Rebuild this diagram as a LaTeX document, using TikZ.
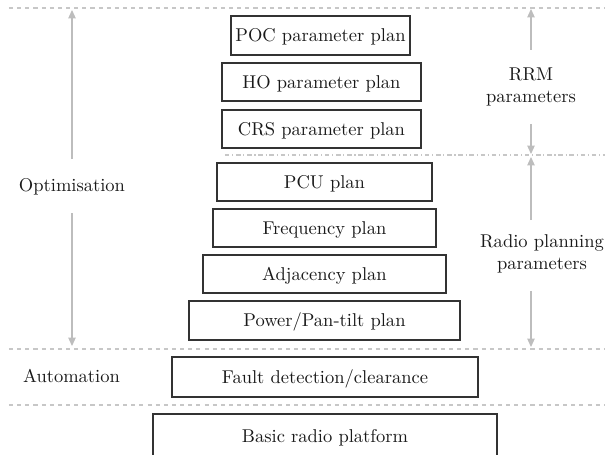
\documentclass[tikz,border=0pt]{standalone}
\usetikzlibrary{arrows.meta}
\begin{document}
\begin{tikzpicture}[x=0.54pt,y=-0.54pt,
  plan/.style n args={2}{draw=black!80, line width=0.6pt,
    minimum width={#1*0.54pt}, minimum height={#2*0.54pt},
    inner sep=0pt, text height=6.94pt, text depth=0pt, text=black!90},
  lbl/.style={inner sep=0pt, text=black!90, align=center},
  span/.style={draw=black!26, line width=0.55pt,
    -{Triangle[width=4pt,length=4.5pt]}},
  sep/.style={draw=black!22, line width=0.55pt, dash pattern=on 2.2pt off 2.2pt},
  sepdot/.style={draw=black!22, line width=0.55pt,
    dash pattern=on 2.4pt off 1.5pt on 0.6pt off 1.5pt}]

\useasboundingbox (0,0) rectangle (605,455);

% layer separators
\coordinate (s0l) at (9,8);     \coordinate (s0r) at (605,8);
\coordinate (s1l) at (225,155); \coordinate (s1r) at (605,155);
\coordinate (s2l) at (9,349);   \coordinate (s2r) at (605,349);
\coordinate (s3l) at (9,405);   \coordinate (s3r) at (605,405);
\draw[sep] (s0l) -- (s0r);
\draw[sepdot] (s1l) -- (s1r);
\draw[sep] (s2l) -- (s2r);
\draw[sep] (s3l) -- (s3r);

% stacked plans
\node[plan={179}{39}] (poc)   at (320.5,35.5) {POC parameter plan};
\node[plan={199}{38}] (ho)    at (321.5,82)   {HO parameter plan};
\node[plan={199}{38}] (crs)   at (321.5,129)  {CRS parameter plan};
\node[plan={215}{38}] (pcu)   at (324.5,182)  {PCU plan};
\node[plan={223}{38}] (freq)  at (324.5,228)  {Frequency plan};
\node[plan={243}{38}] (adj)   at (324.5,274)  {Adjacency plan};
\node[plan={271}{39}] (pow)   at (324.5,320.5){Power/Pan-tilt plan};
\node[plan={306}{40}] (fault) at (325,377)    {Fault detection/clearance};
\node[plan={344}{44}] (basic) at (325,436)    {Basic radio platform};

% side labels
\node[lbl, anchor=base]  (opt)   at (72,191)   {Optimisation};
\node[lbl, anchor=base]  (auto)  at (71.5,382) {Automation};
\node[lbl, anchor=north] (rrm)   at (531,67)   {RRM\\parameters};
\node[lbl, anchor=north] (radio) at (542,234)  {Radio planning\\parameters};

% extent arrows
\coordinate (optTop) at (72,10);  \coordinate (optBot) at (72,346);
\coordinate (rrmTop) at (531,9);  \coordinate (rrmBot) at (531,154);
\coordinate (radTop) at (531,157); \coordinate (radBot) at (531,347);

\draw[span, shorten <=10pt]  (opt) -- (optTop);
\draw[span, shorten <=10pt]  (opt) -- (optBot);
\draw[span, shorten <=9.3pt] (rrm) -- (rrmTop);
\draw[span, shorten <=9.5pt] (rrm) -- (rrmBot);
\draw[span, shorten <=7.5pt] (radio.north -| radTop) -- (radTop);
\draw[span, shorten <=9.4pt] (radio.south -| radBot) -- (radBot);
\end{tikzpicture}
\end{document}
